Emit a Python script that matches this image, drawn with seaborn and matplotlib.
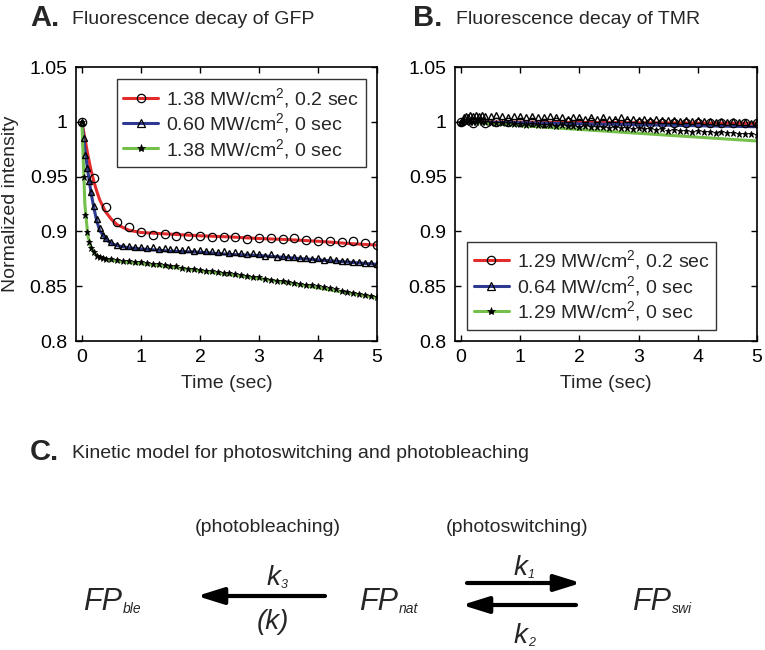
import matplotlib
matplotlib.use("Agg")
import matplotlib.pyplot as plt
import seaborn as sns
from matplotlib.lines import Line2D

# ---------------- data: panel A (GFP) ----------------
fit_t = [0, 0.05, 0.1, 0.15, 0.2, 0.25, 0.3, 0.4, 0.5, 0.6, 0.8, 1.0,
         1.5, 2.0, 2.5, 3.0, 3.5, 4.0, 4.5, 5.0]
gfp_red_fit = [1.000, 0.985, 0.970, 0.957, 0.946, 0.937, 0.929, 0.918, 0.911, 0.906,
               0.901, 0.899, 0.8975, 0.896, 0.895, 0.8935, 0.8925, 0.891, 0.889, 0.8875]
gfp_blue_fit = [1.000, 0.975, 0.955, 0.937, 0.922, 0.910, 0.901, 0.893, 0.889, 0.887,
                0.885, 0.884, 0.882, 0.881, 0.879, 0.878, 0.876, 0.874, 0.872, 0.870]
gfp_green_fit = [1.000, 0.925, 0.896, 0.886, 0.881, 0.878, 0.876, 0.8745, 0.8735, 0.873,
                 0.8715, 0.8705, 0.8675, 0.864, 0.8605, 0.857, 0.853, 0.8485, 0.844, 0.8395]

circle_t = [0, 0.2, 0.4, 0.6, 0.8, 1.0, 1.2, 1.4, 1.6, 1.8, 2.0, 2.2, 2.4,
            2.6, 2.8, 3.0, 3.2, 3.4, 3.6, 3.8, 4.0, 4.2, 4.4, 4.6, 4.8, 5.0]
gfp_red_pts = [1.000, 0.949, 0.922, 0.909, 0.904, 0.899, 0.897, 0.898, 0.896, 0.896,
               0.896, 0.895, 0.895, 0.895, 0.893, 0.894, 0.894, 0.893, 0.894, 0.892,
               0.891, 0.891, 0.890, 0.891, 0.889, 0.888]

dense_t = [0, 0.03, 0.06, 0.09, 0.12, 0.15, 0.2, 0.25, 0.3, 0.35, 0.4,
           0.5, 0.6, 0.7, 0.8, 0.9,
           1.0, 1.1, 1.2, 1.3, 1.4, 1.5, 1.6, 1.7, 1.8, 1.9,
           2.0, 2.1, 2.2, 2.3, 2.4, 2.5, 2.6, 2.7, 2.8, 2.9,
           3.0, 3.1, 3.2, 3.3, 3.4, 3.5, 3.6, 3.7, 3.8, 3.9,
           4.0, 4.1, 4.2, 4.3, 4.4, 4.5, 4.6, 4.7, 4.8, 4.9, 5.0]
gfp_blue_pts = [1.000, 0.985, 0.970, 0.958, 0.946, 0.936, 0.923, 0.911, 0.903, 0.897, 0.894,
                0.890, 0.888, 0.887, 0.887, 0.886,
                0.886, 0.885, 0.886, 0.884, 0.885, 0.884, 0.884, 0.883, 0.884, 0.882,
                0.883, 0.882, 0.882, 0.881, 0.882, 0.880, 0.881, 0.880, 0.879, 0.880,
                0.879, 0.878, 0.879, 0.877, 0.878, 0.877, 0.877, 0.876, 0.876, 0.875,
                0.876, 0.874, 0.875, 0.874, 0.873, 0.873, 0.872, 0.872, 0.871, 0.871, 0.870]
gfp_green_pts = [1.000, 0.950, 0.915, 0.899, 0.890, 0.885, 0.881, 0.878, 0.877, 0.876, 0.875,
                 0.875, 0.874, 0.873, 0.873, 0.872,
                 0.872, 0.871, 0.870, 0.870, 0.869, 0.868, 0.868, 0.867, 0.866, 0.866,
                 0.865, 0.864, 0.864, 0.863, 0.862, 0.862, 0.861, 0.860, 0.859, 0.858,
                 0.858, 0.857, 0.856, 0.855, 0.855, 0.854, 0.853, 0.852, 0.851, 0.851,
                 0.850, 0.849, 0.848, 0.847, 0.846, 0.845, 0.844, 0.843, 0.842, 0.841, 0.840]
gfp_labels = ["1.38 MW/cm$^2$, 0.2 sec", "0.60 MW/cm$^2$, 0 sec", "1.38 MW/cm$^2$, 0 sec"]

# ---------------- data: panel B (TMR) ----------------
tmr_fit_t = [0, 1, 2, 3, 4, 5]
tmr_red_fit = [1.000, 0.9997, 0.9994, 0.9991, 0.9988, 0.9985]
tmr_blue_fit = [1.000, 0.9991, 0.9982, 0.9973, 0.9964, 0.9955]
tmr_green_fit = [1.000, 0.9965, 0.9930, 0.9895, 0.9860, 0.9825]
tmr_red_pts = [1.000, 0.999, 0.9985, 0.9995, 1.000, 0.9995, 0.9998, 0.9992, 0.9996, 0.9994,
               0.9993, 0.9995, 0.9992, 0.9991, 0.9993, 0.9990, 0.9991, 0.9989, 0.9990, 0.9988,
               0.9989, 0.9987, 0.9988, 0.9986, 0.9987, 0.9985]
tmr_blue_pts = [1.000, 1.002, 1.004, 1.005, 1.004, 1.006, 1.005, 1.006, 1.005, 1.006, 1.005,
                1.005, 1.006, 1.005, 1.004, 1.005,
                1.005, 1.004, 1.005, 1.004, 1.004, 1.005, 1.004, 1.004, 1.003, 1.004,
                1.004, 1.003, 1.004, 1.003, 1.004, 1.003, 1.003, 1.004, 1.003, 1.003,
                1.002, 1.003, 1.002, 1.003, 1.002, 1.002, 1.002, 1.001, 1.002, 1.001,
                1.002, 1.001, 1.001, 1.000, 1.001, 1.000, 1.001, 1.000, 1.000, 0.999, 1.000]
tmr_green_pts = [1.000, 1.000, 1.001, 1.000, 1.001, 1.000, 1.000, 1.000, 1.0005, 0.9995, 1.000,
                 0.999, 0.999, 0.9985, 0.9985, 0.998,
                 0.998, 0.9975, 0.998, 0.997, 0.9975, 0.997, 0.9965, 0.997, 0.996, 0.9965,
                 0.9955, 0.996, 0.995, 0.9955, 0.995, 0.9945, 0.995, 0.994, 0.9945, 0.9935,
                 0.994, 0.993, 0.9935, 0.9925, 0.993, 0.992, 0.9925, 0.9915, 0.992, 0.991,
                 0.9915, 0.9905, 0.991, 0.990, 0.9905, 0.9895, 0.990, 0.989, 0.9885, 0.989, 0.988]
tmr_labels = ["1.29 MW/cm$^2$, 0.2 sec", "0.64 MW/cm$^2$, 0 sec", "1.29 MW/cm$^2$, 0 sec"]

x_ticks = [0, 1, 2, 3, 4, 5]
y_ticks = [0.8, 0.85, 0.9, 0.95, 1.0, 1.05]
y_ticklabels = ["0.8", "0.85", "0.9", "0.95", "1", "1.05"]

RED, BLUE, GREEN = "#e42b2b", "#2e3a92", "#74c04a"

sns.set_theme(style="ticks")
plt.rcParams["font.family"] = ["Liberation Sans", "DejaVu Sans"]
plt.rcParams["mathtext.fontset"] = "custom"
plt.rcParams["mathtext.rm"] = "Liberation Sans"
plt.rcParams["mathtext.it"] = "Liberation Sans:italic"

W, H = 765, 650
fig = plt.figure(figsize=(W / 100, H / 100), dpi=100)


def px_axes(x0, y0, x1, y1):
    return fig.add_axes([x0 / W, 1 - y1 / H, (x1 - x0) / W, (y1 - y0) / H])


def decay_panel(ax, fit_x, red_fit, blue_fit, green_fit,
                red_pts, blue_pts, green_pts, labels, leg_loc, leg_anchor):
    sns.lineplot(x=fit_x, y=red_fit, color=RED, lw=2.2, ax=ax, zorder=2)
    sns.lineplot(x=fit_x, y=blue_fit, color=BLUE, lw=2.2, ax=ax, zorder=2)
    sns.lineplot(x=fit_x, y=green_fit, color=GREEN, lw=2.2, ax=ax, zorder=2)
    sns.lineplot(x=dense_t, y=blue_pts, marker="^", linestyle="", markersize=5,
                 markerfacecolor="none", markeredgecolor="black", markeredgewidth=1.0,
                 ax=ax, zorder=3)
    sns.lineplot(x=dense_t, y=green_pts, marker="*", linestyle="", markersize=5,
                 markerfacecolor="black", markeredgecolor="black", markeredgewidth=0.6,
                 ax=ax, zorder=3)
    sns.lineplot(x=circle_t, y=red_pts, marker="o", linestyle="", markersize=6,
                 markerfacecolor="none", markeredgecolor="black", markeredgewidth=0.9,
                 ax=ax, zorder=3)

    ax.set_xlim(-0.1, 5)
    ax.set_ylim(0.8, 1.05)
    ax.set_xticks(x_ticks)
    ax.set_xticklabels([str(v) for v in x_ticks])
    ax.set_yticks(y_ticks)
    ax.set_yticklabels(y_ticklabels)
    ax.tick_params(direction="in", length=4, width=1, top=True, right=True,
                   labelsize=14, pad=6, colors="black")
    for s in ax.spines.values():
        s.set_visible(True)
        s.set_linewidth(1.2)
        s.set_color("black")
    ax.set_xlabel("Time (sec)", fontsize=14, labelpad=6)
    ax.set_ylabel("")

    handles = [
        Line2D([0], [0], color=RED, lw=2.2, marker="o", ms=6, mfc="none", mec="black", mew=0.9),
        Line2D([0], [0], color=BLUE, lw=2.2, marker="^", ms=6, mfc="none", mec="black", mew=0.9),
        Line2D([0], [0], color=GREEN, lw=2.2, marker="*", ms=6, mfc="black", mec="black", mew=0.5),
    ]
    leg = ax.legend(handles, labels, loc=leg_loc, bbox_to_anchor=leg_anchor,
                    borderaxespad=0, fontsize=14, frameon=True, fancybox=False,
                    framealpha=1, edgecolor="#333333", handlelength=1.8,
                    handletextpad=0.4, labelspacing=0.08, borderpad=0.35)
    leg.get_frame().set_linewidth(1.0)


ax_a = px_axes(76, 67, 377, 341)
decay_panel(ax_a, fit_t, gfp_red_fit, gfp_blue_fit, gfp_green_fit,
            gfp_red_pts, gfp_blue_pts, gfp_green_pts, gfp_labels,
            "upper right", (0.963, 0.956))

ax_b = px_axes(455, 67, 757, 341)
decay_panel(ax_b, tmr_fit_t, tmr_red_fit, tmr_blue_fit, tmr_green_fit,
            tmr_red_pts, tmr_blue_pts, tmr_green_pts, tmr_labels,
            "lower left", (0.04, 0.04))

# ---------------- headings, y label, panel C ----------------
ov = fig.add_axes([0, 0, 1, 1], zorder=5)
ov.set_xlim(0, W)
ov.set_ylim(H, 0)
ov.axis("off")

ov.text(30, 18, "A.", fontsize=21, fontweight="bold", va="center", ha="left")
ov.text(72, 19, "Fluorescence decay of GFP", fontsize=14, va="center", ha="left")
ov.text(413, 18, "B.", fontsize=21, fontweight="bold", va="center", ha="left")
ov.text(456, 19, "Fluorescence decay of TMR", fontsize=14, va="center", ha="left")
ov.text(11, 204, "Normalized intensity", fontsize=14, rotation=90, va="center", ha="center")

ov.text(30, 452, "C.", fontsize=21, fontweight="bold", va="center", ha="left")
ov.text(72, 453, "Kinetic model for photoswitching and photobleaching",
        fontsize=14, va="center", ha="left")

ov.text(268, 527, "(photobleaching)", fontsize=14, va="center", ha="center")
ov.text(517, 527, "(photoswitching)", fontsize=14, va="center", ha="center")

narrow = ["Liberation Sans Narrow", "Liberation Sans"]


def species(x_split, name):
    ov.text(x_split, 610, "FP", fontsize=22, style="italic", family=narrow,
            ha="right", va="baseline")
    ov.text(x_split + 1, 613, name, fontsize=10, style="italic", family=narrow,
            ha="left", va="baseline")


species(122, "ble")
species(398, "nat")
species(671, "swi")


def rate(x, y, sub):
    ov.text(x, y, "k", fontsize=20, style="italic", family=narrow, ha="right", va="baseline")
    ov.text(x + 1, y + 3, sub, fontsize=9, style="italic", family=narrow, ha="left", va="baseline")


rate(280, 585, "3")
rate(527, 575, "1")
rate(527, 643, "2")
ov.text(273, 622, "(k)", fontsize=20, style="italic", family=narrow, ha="center", va="center")

arrow = dict(arrowstyle="-|>,head_length=0.8,head_width=0.25", lw=3, color="black",
             mutation_scale=20, shrinkA=0, shrinkB=0)
ov.annotate("", xy=(197, 596), xytext=(325, 596), arrowprops=arrow)
ov.annotate("", xy=(581, 583), xytext=(467, 583), arrowprops=arrow)
ov.annotate("", xy=(462, 605), xytext=(576, 605), arrowprops=arrow)

fig.savefig("out.png", dpi=100)
